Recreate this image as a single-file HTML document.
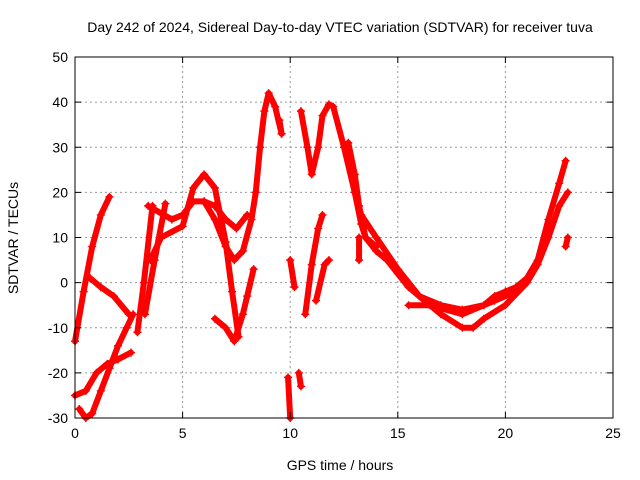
<!DOCTYPE html>
<html><head><meta charset="utf-8"><style>
body{margin:0;background:#fff;}
svg{display:block;font-family:"Liberation Sans",sans-serif;}
</style></head><body>
<svg id="chart" width="640" height="480">
<text x="340" y="32" font-size="14" text-anchor="middle">Day 242 of 2024, Sidereal Day-to-day VTEC variation (SDTVAR) for receiver tuva</text>
<text x="340" y="470" font-size="14" text-anchor="middle">GPS time / hours</text>
<text transform="translate(18,238) rotate(-90)" font-size="14" text-anchor="middle">SDTVAR / TECUs</text>
<g id="grid"></g><g id="marks"></g><g id="axes"></g>
</svg>
<script>
const xTicks=[0,5,10,15,20,25];
const yTicks=[-30,-20,-10,0,10,20,30,40,50];
const track1=[[0,-13],[0.4,-2],[0.8,8],[1.2,15],[1.6,19]];
const track2=[[0.7,1],[1.2,-1],[1.8,-3],[2.5,-7]];
const track3=[[0,-25],[0.5,-24],[1,-20],[1.5,-18],[2,-17],[2.6,-15.5]];
const track4=[[0.2,-28],[0.5,-30],[0.8,-29],[1.2,-24],[1.6,-19],[2,-14],[2.4,-10],[2.7,-7]];
const track5=[[2.9,-11],[3.2,0],[3.6,17]];
const track6=[[3.25,-7],[3.7,5],[4.2,17.5]];
const track7=[[3.4,17],[4.5,14],[5,15],[5.5,18],[6,18],[6.5,17],[7,14],[7.5,12],[8,15]];
const track8=[[3.5,5],[4,10],[5,12.5],[5.5,21],[6,24],[6.5,21],[7,9],[7.3,-2],[7.6,-12]];
const track9=[[6,18],[6.5,14],[7,8],[7.4,5],[7.8,7],[8.2,14],[8.4,20],[8.6,30],[8.8,38],[9,42],[9.3,39],[9.6,33]];
const track10=[[6.5,-8],[7,-10],[7.4,-13],[7.8,-7],[8,-3],[8.3,3]];
const track11=[[9.9,-21],[10,-30]];
const track12=[[10,5],[10.2,-1]];
const track13=[[10.5,38],[10.8,30],[11,24],[11.3,30],[11.5,37],[11.8,39.5],[12,39],[12.5,30],[13,20],[13.3,13],[13.5,10],[14,8]];
const track14=[[10.7,-7],[11,4],[11.3,12],[11.5,15]];
const track15=[[11.2,-4],[11.6,4],[11.8,5]];
const track16=[[12.7,31],[13,24],[13.2,17],[13.5,10],[14,7],[14.5,5],[15,2],[15.5,-1],[16,-3],[17,-5],[18,-6],[19,-5],[19.5,-3],[20,-2],[20.5,-1],[21,1],[21.5,5],[22,14],[22.5,22],[22.8,27]];
const track17=[[13,20],[13.3,15],[14,10],[15,3],[16,-3],[17,-7],[18,-10],[18.5,-10],[19,-8],[20,-5],[21,0],[21.5,4],[22,10],[22.5,17],[22.9,20]];
const track18=[[15.5,-5],[16.5,-5],[18,-7],[19.5,-4],[20.5,-2]];
const track19=[[22.8,8],[22.9,10]];
const track20=[[13.2,10],[13.2,5]];
const track21=[[10.4,-20],[10.5,-23]];
const track22=[[9.5,36],[9.6,33]];
const tracks=[track1,track2,track3,track4,track5,track6,track7,track8,track9,track10,track11,track12,track13,track14,track15,track16,track17,track18,track19,track20,track21,track22];
const X0=75,X1=613,Y0=418,Y1=57;
const sx=t=>X0+(t-0)/(25-0)*(X1-X0);
const sy=v=>Y0-(v+30)/(80)*(Y0-Y1);
const NS="http://www.w3.org/2000/svg";
const grid=document.getElementById('grid'),marks=document.getElementById('marks'),axes=document.getElementById('axes');
function mk(tag,at,parent){const e=document.createElementNS(NS,tag);for(const k in at)e.setAttribute(k,at[k]);parent.appendChild(e);return e;}
xTicks.forEach(t=>{
 if(t>0&&t<25){const g=mk('line',{x1:sx(t),x2:sx(t),y1:Y0,y2:Y1,stroke:'#999','stroke-dasharray':'2,3'},grid);
 
 }
 const l=mk('text',{x:sx(t),y:Y0+20,'font-size':14,'text-anchor':'middle'},axes);l.textContent=t;
 
 
 mk('line',{x1:sx(t),x2:sx(t),y1:Y0,y2:Y0-6,stroke:'#000'},axes);
 mk('line',{x1:sx(t),x2:sx(t),y1:Y1,y2:Y1+6,stroke:'#000'},axes);
});
yTicks.forEach(v=>{
 if(v>-30&&v<50){const g=mk('line',{x1:X0,x2:X1,y1:sy(v),y2:sy(v),stroke:'#999','stroke-dasharray':'2,3'},grid);
 
 }
 const l=mk('text',{x:X0-7,y:sy(v)+5,'font-size':14,'text-anchor':'end'},axes);l.textContent=v;
 
 
 mk('line',{x1:X0,x2:X0+6,y1:sy(v),y2:sy(v),stroke:'#000'},axes);
 mk('line',{x1:X1,x2:X1-6,y1:sy(v),y2:sy(v),stroke:'#000'},axes);
});
const fr=mk('rect',{x:X0,y:Y1,width:X1-X0,height:Y0-Y1,fill:'none',stroke:'#000'},axes);


tracks.forEach(tr=>{
 const pl=mk('polyline',{points:tr.map(p=>sx(p[0])+','+sy(p[1])).join(' '),fill:'none',stroke:'#f00','stroke-width':6,'stroke-linejoin':'round','stroke-linecap':'round'},marks);
 
 
 tr.forEach(p=>{const x=sx(p[0]),y=sy(p[1]);
  const m=mk('path',{d:`M${x-4},${y}H${x+4}M${x},${y-4}V${y+4}`,stroke:'#f00','stroke-width':1.5},marks);
  
  
 });
});
</script>
</body></html>
